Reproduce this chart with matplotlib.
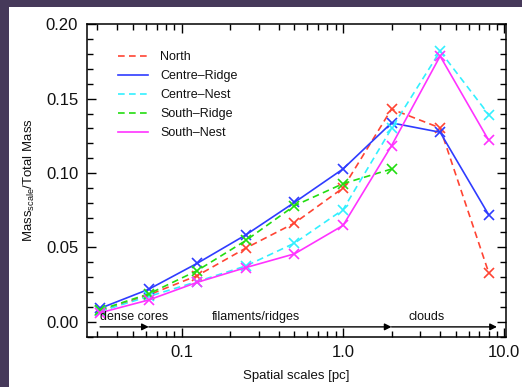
import matplotlib
matplotlib.use("Agg")
import matplotlib.pyplot as plt
from matplotlib.patches import Rectangle
from matplotlib.ticker import FixedLocator, LogLocator, MultipleLocator, NullFormatter

plt.rcParams['font.family'] = ['Liberation Sans', 'DejaVu Sans']
plt.rcParams['mathtext.fontset'] = 'custom'
plt.rcParams['mathtext.rm'] = 'Liberation Sans'
plt.rcParams['mathtext.it'] = 'Liberation Sans'

scales = [0.03125, 0.0625, 0.125, 0.25, 0.5, 1.0, 2.0, 4.0, 8.0]
north = [0.007, 0.018, 0.031, 0.0495, 0.0663, 0.0899, 0.143, 0.1303, 0.033]
centre_ridge = [0.009, 0.0218, 0.0393, 0.0584, 0.0802, 0.1027, 0.1337, 0.1274, 0.0719]
centre_nest = [0.007, 0.0170, 0.027, 0.0375, 0.0528, 0.0753, 0.130, 0.1819, 0.1393]
south_ridge_scales = [0.03125, 0.0625, 0.125, 0.25, 0.5, 1.0, 2.0]
south_ridge = [0.008, 0.0187, 0.0344, 0.0546, 0.078, 0.0928, 0.1027]
south_nest = [0.006, 0.0146, 0.0265, 0.0364, 0.0456, 0.0647, 0.1184, 0.1786, 0.122]

labels = ['North', 'Centre\u2013Ridge', 'Centre\u2013Nest', 'South\u2013Ridge', 'South\u2013Nest']
colors = ['#ff4433', '#2f3cff', '#33f0ff', '#22dd11', '#ff33ff']

region_labels = ['dense cores', 'filaments/ridges', 'clouds']
region_x = [0.0312, 0.29, 3.3]
arrow_pts = [0.0312, 0.0625, 2.0, 9.0]

W, H = 522, 387
fig = plt.figure(figsize=(W / 100, H / 100), dpi=100)
fig.patch.set_facecolor('#46395a')
bg = fig.add_axes([9 / W, 0, 1 - 9 / W, 1 - 7 / H], zorder=-10)
bg.set_facecolor('white')
bg.set_axis_off()
bg.add_patch(Rectangle((0, 0), 1, 1, transform=bg.transAxes, facecolor='white', edgecolor='none'))

ax = fig.add_axes([86.5 / W, 1 - 336.7 / H, 419.2 / W, (336.7 - 24.3) / H], zorder=1)
ax.set_facecolor('white')

dash = (0, (4, 2.6))
series = [
    (scales, north, dash),
    (scales, centre_ridge, '-'),
    (scales, centre_nest, dash),
    (south_ridge_scales, south_ridge, dash),
    (scales, south_nest, '-'),
]
for (xs, ys, ls), lab, col in zip(series, labels, colors):
    ax.plot(xs, ys, linestyle=ls, color=col, linewidth=1.2, marker='x',
            markersize=6.5, markeredgewidth=1.2, label=lab)

ax.set_xscale('log')
ax.set_xlim(0.0257, 10.2)
ax.set_ylim(-0.0101, 0.20)

ax.xaxis.set_major_locator(FixedLocator([0.1, 1.0, 10.0]))
ax.set_xticklabels(['0.1', '1.0', '10.0'])
ax.xaxis.set_minor_locator(LogLocator(base=10, subs=range(2, 10)))
ax.xaxis.set_minor_formatter(NullFormatter())
ax.yaxis.set_major_locator(MultipleLocator(0.05))
ax.yaxis.set_minor_locator(MultipleLocator(0.01))
ax.yaxis.set_major_formatter(plt.FuncFormatter(lambda v, p: f'{v:.2f}'))

ax.tick_params(which='both', direction='in', top=True, right=True, width=1.0, color='black')
ax.tick_params(which='major', length=6.5, labelsize=12, pad=6, labelcolor='#111111')
ax.tick_params(which='minor', length=4)
for s in ax.spines.values():
    s.set_linewidth(1.1)

ax.set_xlabel('Spatial scales [pc]', fontsize=9.5, labelpad=7, color='#111111')
ax.set_ylabel('Mass$_{\\mathrm{scale}}$/Total Mass', fontsize=9.5, labelpad=6, color='#111111')

# region arrows
for x0, x1 in zip(arrow_pts[:-1], arrow_pts[1:]):
    ax.annotate('', xy=(x1, -0.0035), xytext=(x0, -0.0035),
                arrowprops=dict(arrowstyle='-|>', color='black', lw=1.0,
                                mutation_scale=10, shrinkA=0, shrinkB=0))
ax.text(region_x[0], 0.0032, region_labels[0], fontsize=9, ha='left', va='center', color='#111111')
ax.text(region_x[1], 0.0032, region_labels[1], fontsize=9, ha='center', va='center', color='#111111')
ax.text(region_x[2], 0.0032, region_labels[2], fontsize=9, ha='center', va='center', color='#111111')

leg = ax.legend(loc='upper left', bbox_to_anchor=(0.074, 0.913), frameon=False, fontsize=9,
                handlelength=2.4, handletextpad=1.0, labelspacing=0.55,
                borderpad=0, borderaxespad=0)
for t in leg.get_texts():
    t.set_color('#111111')
for h in leg.get_lines():
    h.set_marker('')

fig.savefig('out.png', dpi=100, facecolor=fig.get_facecolor())
